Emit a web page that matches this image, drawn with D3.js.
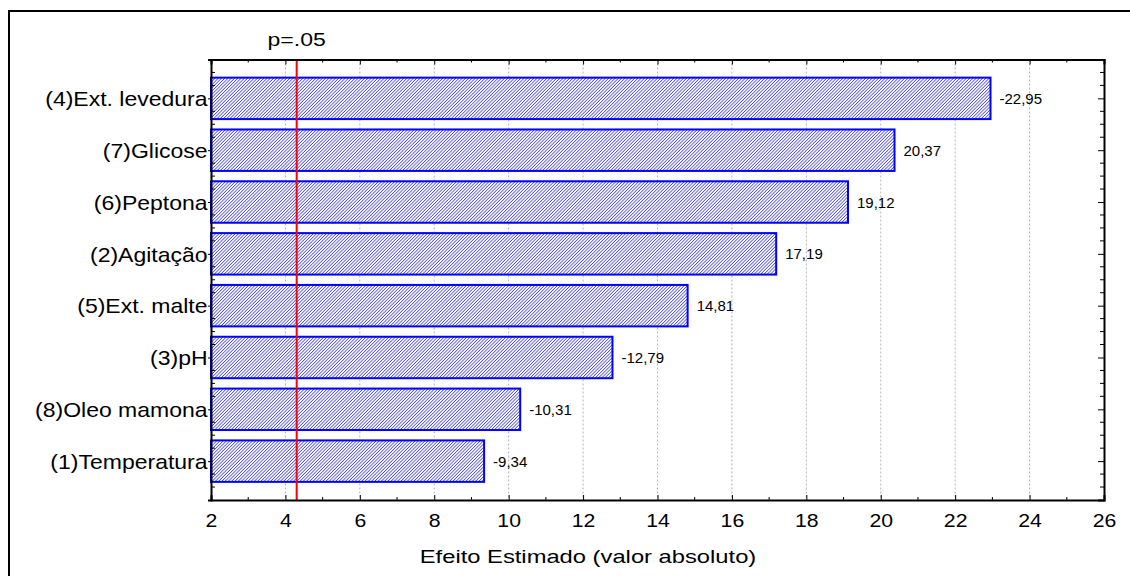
<!DOCTYPE html>
<html>
<head>
<meta charset="utf-8">
<script src="https://cdn.jsdelivr.net/npm/d3@7"></script>
<style>
  html, body { margin: 0; padding: 0; background: #fff; overflow: hidden; }
  svg { display: block; }
  text { font-family: "Liberation Sans", Arial, Helvetica, sans-serif; fill: #000; }
</style>
</head>
<body>
<svg id="chart" width="1130" height="576"></svg>
<script>
// Pareto chart of standardized effects
const factors = ["(4)Ext. levedura", "(7)Glicose", "(6)Peptona", "(2)Agitação",
                 "(5)Ext. malte", "(3)pH", "(8)Oleo mamona", "(1)Temperatura"];
const effects = [-22.95, 20.37, 19.12, 17.19, 14.81, -12.79, -10.31, -9.34];
const xTicks = [2, 4, 6, 8, 10, 12, 14, 16, 18, 20, 22, 24, 26];
const pCritical = 4.303;
const pLabel = "p=.05";
const xTitle = "Efeito Estimado (valor absoluto)";

const svg = d3.select("#chart");
const W = 1130, H = 576;
const plot = { left: 211, right: 1104, top: 59.5, bottom: 500 };
const wide = 1.18; // horizontal stretch of the large labels

// outer frame (runs off the right and bottom edges)
svg.append("rect")
  .attr("x", 9).attr("y", 11)
  .attr("width", W + 20).attr("height", H + 20)
  .attr("fill", "none").attr("stroke", "#000").attr("stroke-width", 2);

const x = d3.scaleLinear().domain([2, 26]).range([plot.left, plot.right]);
const y = d3.scaleLinear().domain([0.25, 8.75]).range([plot.top, plot.bottom]);

// fine hatch fill for the bars
const hs = 2.3;
const defs = svg.append("defs");
const pat = defs.append("pattern")
  .attr("id", "hatch")
  .attr("patternUnits", "userSpaceOnUse")
  .attr("width", hs).attr("height", hs)
  .attr("patternTransform", "rotate(45)");
pat.append("rect").attr("width", hs).attr("height", hs).attr("fill", "#fff");
pat.append("line")
  .attr("x1", 0).attr("y1", 0).attr("x2", 0).attr("y2", hs)
  .attr("stroke", "#1414ff").attr("stroke-width", 1.25);

// dotted vertical grid
const grid = svg.append("g");
grid.selectAll("line")
  .data(xTicks.filter(v => v > 2 && v < 26))
  .join("line")
  .attr("x1", d => x(d)).attr("x2", d => x(d))
  .attr("y1", plot.top).attr("y2", plot.bottom)
  .attr("stroke", "#b4b4b4").attr("stroke-width", 1)
  .attr("stroke-dasharray", "2,2");

// bars
const rows = factors.map((f, i) => ({ name: f, effect: effects[i], pos: i + 1 }));
const barHalf = 0.4;
svg.append("g").selectAll("rect")
  .data(rows)
  .join("rect")
  .attr("x", x(2))
  .attr("y", d => y(d.pos - barHalf))
  .attr("width", d => x(Math.abs(d.effect)) - x(2))
  .attr("height", d => y(d.pos + barHalf) - y(d.pos - barHalf))
  .attr("fill", "url(#hatch)")
  .attr("stroke", "#0000ff").attr("stroke-width", 2);

// value labels, comma decimals with a plain hyphen for negatives
const fmt = v => (v < 0 ? "-" : "") + d3.format(".2f")(Math.abs(v)).replace(".", ",");
svg.append("g").selectAll("text")
  .data(rows)
  .join("text")
  .attr("x", d => x(Math.abs(d.effect)) + 9)
  .attr("y", d => y(d.pos) + 5.5)
  .attr("font-size", 15)
  .text(d => fmt(d.effect));

// critical value line
svg.append("line")
  .attr("x1", x(pCritical)).attr("x2", x(pCritical))
  .attr("y1", plot.top).attr("y2", plot.bottom)
  .attr("stroke", "#ff0000").attr("stroke-width", 2);
svg.append("g")
  .attr("transform", `translate(${x(pCritical)},46) scale(1.28,1)`)
  .append("text")
  .attr("text-anchor", "middle").attr("font-size", 18)
  .text(pLabel);

// axes
const minor = d3.range(3, 26, 2);
const gBottom = svg.append("g").attr("transform", `translate(0,${plot.bottom})`);
gBottom.call(d3.axisBottom(x).tickValues(xTicks).tickSize(-5).tickPadding(14).tickFormat(d3.format("d")));
gBottom.call(g => g.selectAll(".tick text").attr("font-size", 18).attr("font-family", null)
  .attr("transform", `scale(${wide},1)`));
gBottom.call(g => g.selectAll(".minor").data(minor).join("line").attr("class", "minor")
  .attr("x1", d => x(d)).attr("x2", d => x(d)).attr("y1", 0).attr("y2", -3).attr("stroke", "#000"));

const gTop = svg.append("g").attr("transform", `translate(0,${plot.top})`);
gTop.call(d3.axisTop(x).tickValues(xTicks).tickSize(-5).tickFormat(""));
gTop.call(g => g.selectAll(".minor").data(minor).join("line").attr("class", "minor")
  .attr("x1", d => x(d)).attr("x2", d => x(d)).attr("y1", 0).attr("y2", 3).attr("stroke", "#000"));

const yMinor = d3.range(0.5, 8.75, 0.25).filter(v => Math.abs(v - Math.round(v)) > 0.01);
const gLeft = svg.append("g").attr("transform", `translate(${plot.left},0)`);
gLeft.call(d3.axisLeft(y).tickValues(rows.map(r => r.pos)).tickSize(3).tickPadding(0)
  .tickFormat(p => factors[p - 1]));
gLeft.call(g => g.selectAll(".tick text").attr("font-size", 20).attr("font-family", null)
  .attr("dy", "0.36em").attr("transform", "scale(1.15,1)"));
gLeft.call(g => g.selectAll(".minor").data(yMinor).join("line").attr("class", "minor")
  .attr("x1", 0).attr("x2", 4).attr("y1", d => y(d)).attr("y2", d => y(d)).attr("stroke", "#000"));

const gRight = svg.append("g").attr("transform", `translate(${plot.right},0)`);
gRight.call(d3.axisRight(y).tickValues(rows.map(r => r.pos)).tickSize(-6).tickFormat(""));
gRight.call(g => g.selectAll(".minor").data(yMinor).join("line").attr("class", "minor")
  .attr("x1", 0).attr("x2", -4).attr("y1", d => y(d)).attr("y2", d => y(d)).attr("stroke", "#000"));

svg.selectAll(".domain").attr("stroke", "#000").attr("stroke-width", 2);
svg.selectAll(".tick line").attr("stroke", "#000");

// axis title
svg.append("g")
  .attr("transform", `translate(588,563) scale(1.25,1)`)
  .append("text")
  .attr("text-anchor", "middle").attr("font-size", 19)
  .text(xTitle);
</script>
</body>
</html>
